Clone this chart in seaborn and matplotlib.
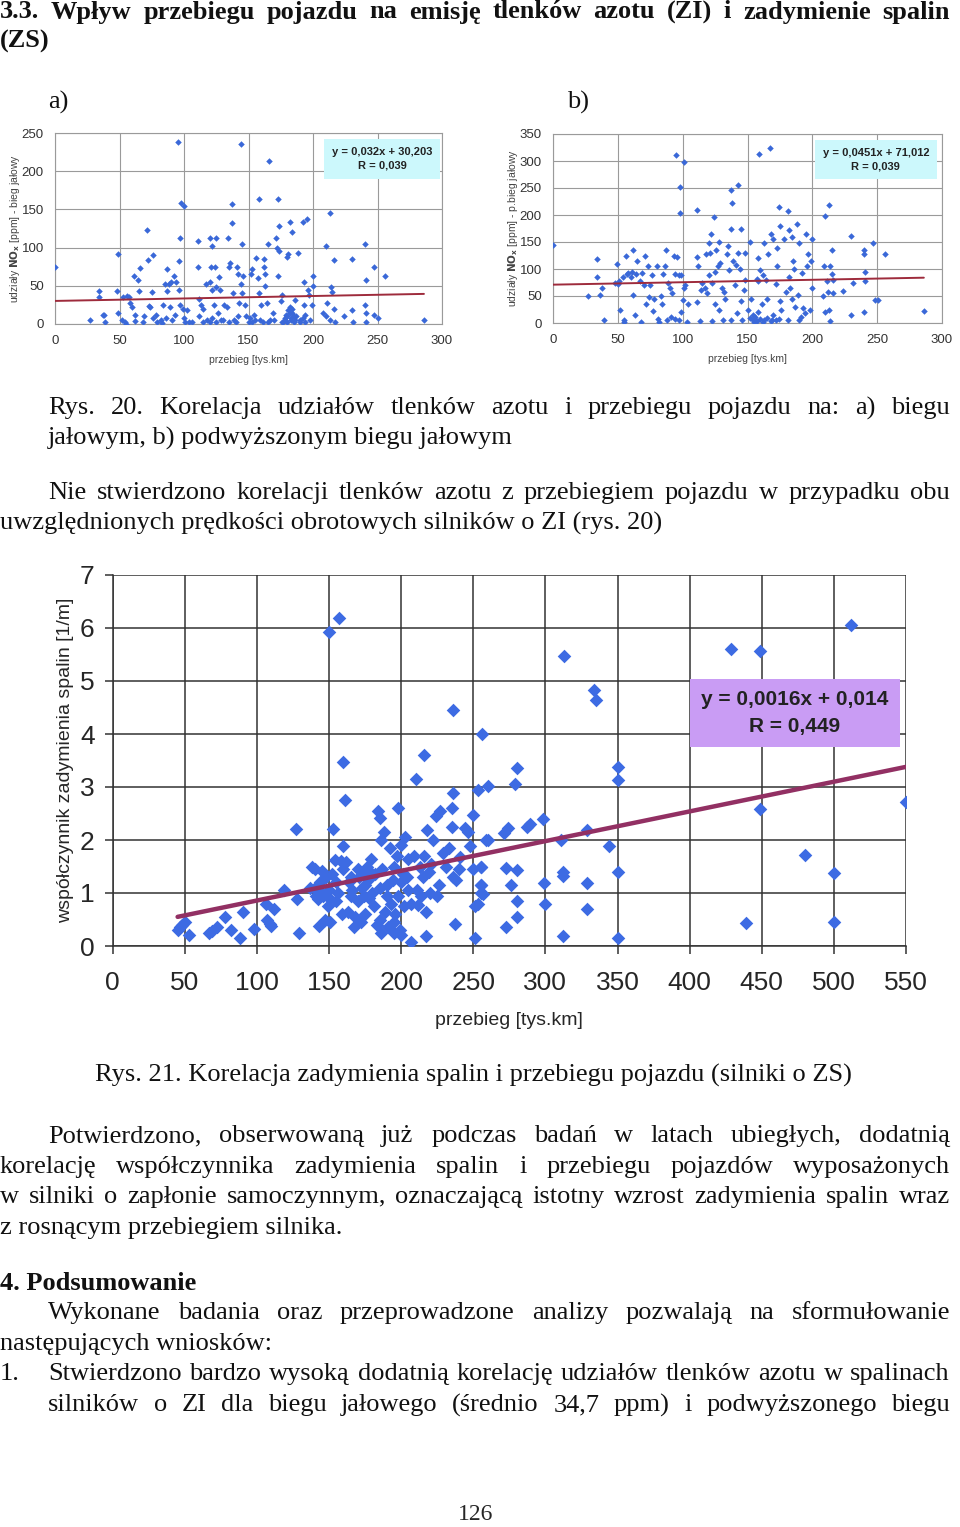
import numpy as np
import pandas as pd
import matplotlib
matplotlib.use("Agg")
import matplotlib.pyplot as plt
import seaborn as sns

W, H = 960, 1527

# --- rys. 20a: NOx, bieg jalowy ---
a_x = [0, 27, 34, 34, 37, 38, 39, 48, 49, 49, 52, 53, 54, 55, 56, 57, 58, 60, 61, 62, 62, 64, 65, 66, 68, 69,
       71, 72, 73, 74, 75, 76, 76, 78, 79, 82, 83, 84, 85, 86, 87, 87, 88, 89, 90, 91, 92, 93, 94, 95, 96, 96,
       97, 97, 98, 99, 100, 100, 101, 102, 104, 111, 111, 112, 112, 113, 115, 117, 118, 120, 120, 121, 122,
       122, 123, 124, 125, 125, 126, 127, 128, 129, 131, 133, 134, 135, 136, 137, 137, 138, 139, 141, 142,
       143, 144, 144, 145, 145, 146, 147, 148, 150, 152, 153, 154, 155, 156, 157, 158, 158, 160, 161, 162,
       162, 163, 163, 164, 165, 166, 167, 169, 171, 172, 173, 173, 174, 174, 175, 176, 177, 178, 180, 180,
       181, 182, 182, 183, 184, 184, 185, 186, 187, 188, 190, 192, 193, 193, 194, 195, 196, 197, 198, 199,
       200, 200, 208, 210, 210, 211, 213, 213, 214, 215, 216, 216, 217, 224, 230, 230, 231, 240, 240, 241,
       241, 241, 247, 247, 250, 256, 286,
       179, 181, 182, 183, 184, 185, 186, 180, 178, 176, 106, 115, 120, 122, 125, 130, 135, 140, 142, 151,
       153, 159, 165, 170, 190, 192, 194]
a_y = [75, 5, 43, 35, 12, 12, 2, 43, 91, 14, 5, 35, 2, 0, 37, 35, 27, 22, 63, 12, 4, 57, 43, 73, 2, 10,
       123, 84, 24, 22, 42, 90, 8, 12, 2, 5, 1, 25, 52, 8, 72, 43, 52, 22, 55, 5, 63, 12, 55, 238, 82, 45,
       112, 25, 158, 20, 155, 8, 3, 18, 3, 108, 75, 33, 10, 25, 20, 52, 5, 112, 55, 75, 102,
       45, 25, 74, 112, 48, 15, 62, 45, 5, 25, 22, 112, 75, 80, 157, 132, 40, 5, 75, 65,
       28, 235, 53, 105, 40, 63, 25, 10, 3, 65, 72, 12, 5, 86, 60, 163, 40, 25, 3, 85,
       75, 65, 50, 28, 105, 213, 5, 15, 112, 100, 163, 63, 128, 95, 30, 38, 2, 5, 88, 10,
       92, 134, 15, 8, 20, 121, 3, 32, 10, 93, 5, 134, 55, 25, 2, 138, 45, 38, 5, 25,
       63, 50, 15, 102, 10, 28, 145, 5, 48, 42, 84, 20, 3, 10, 85, 18, 3, 105, 25, 58,
       3, 15, 75, 12, 8, 63, 5,
       12, 18, 22, 5, 14, 10, 5, 2, 8, 3, 2, 2, 3, 8, 3, 5, 2, 3, 10, 8,
       2, 5, 3, 5, 3, 8, 12]
a_trend_x = [0, 286]
a_trend_y = [30.2, 39.4]

# --- rys. 20b: NOx, podwyzszony bieg jalowy ---
b_x = [0, 27, 34, 34, 36, 38, 39, 48, 49, 50, 51, 52, 54, 55, 55, 56, 57, 58, 60, 61, 62, 62, 63, 64, 65,
       67, 68, 69, 70, 71, 72, 73, 74, 75, 76, 77, 78, 80, 81, 82, 83, 84, 85, 86, 87, 88, 89, 90, 91, 92, 93,
       94, 94, 95, 96, 97, 97, 98, 98, 99, 99, 100, 101, 101, 102, 103, 104, 111, 111, 111, 112, 113, 114,
       115, 117, 118, 119, 120, 120, 121, 122, 123, 123, 124, 125, 125, 126, 127, 128, 128, 129, 130, 131,
       132, 133, 134, 135, 136, 137, 137, 137, 138, 139, 140, 141, 142, 143, 143, 144, 145, 145, 146, 147,
       148, 148, 150, 152, 153, 154, 155, 156, 157, 158, 158, 159, 160, 161, 162, 163, 163, 164, 165, 166,
       167, 168, 169, 170, 172, 173, 173, 174, 175, 175, 176, 178, 180, 181, 181, 182, 182, 183, 184, 184,
       185, 186, 187, 188, 189, 190, 190, 191, 192, 193, 194, 195, 196, 197, 198, 199, 200, 200, 208, 209,
       210, 210, 211, 212, 213, 213, 214, 214, 215, 215, 216, 216, 224, 230, 230, 231, 240, 240, 240, 241,
       241, 247, 248, 251, 256, 286,
       152, 154, 156, 157, 158, 160, 162, 165, 168, 170, 172, 174]
b_y = [145, 50, 118, 85, 52, 65, 5, 75, 110, 72, 78, 25, 85, 5, 2, 125, 90, 92, 85, 95, 135, 52, 15, 90, 115,
       78, 2, 92, 70, 125, 35, 105, 48, 70, 88, 22, 45, 105, 8, 2, 50, 35, 90, 105, 135, 5, 75, 65, 12, 55, 125,
       90, 8, 312, 122, 88, 5, 252, 203, 88, 20, 42, 298, 65, 70, 2, 35, 210, 122, 38, 105, 3, 62,
       75, 65, 128, 55, 148, 88, 130, 165, 75, 4, 197, 95, 35, 135, 105, 150, 25, 112, 65, 5,
       58, 45, 128, 142, 98, 175, 247, 5, 223, 115, 70, 108, 18, 255, 130, 100, 174, 40, 5, 62,
       130, 80, 25, 150, 45, 15, 2, 5, 82, 120, 78, 313, 98, 35, 88, 5, 148, 80, 45, 128,
       325, 165, 5, 155, 72, 138, 105, 215, 180, 40, 25, 155, 58, 208, 5, 172, 85, 65, 160, 45,
       115, 100, 30, 183, 52, 148, 5, 12, 92, 28, 18, 165, 105, 128, 25, 115, 155, 65, 50, 105,
       198, 20, 78, 58, 218, 25, 105, 3, 135, 90, 55, 80, 60, 162, 15, 75, 135, 128, 20, 95,
       78, 148, 42, 42, 128, 23,
       10, 5, 12, 3, 20, 8, 2, 10, 3, 15, 5, 8]
b_trend_x = [0, 286]
b_trend_y = [71.0, 83.9]

# --- rys. 21: zadymienie spalin (ZS) ---
c_x = [45, 47, 48, 50, 53, 67, 69, 72, 78, 82, 88, 90, 98, 106, 107, 109, 110, 112, 119, 127, 128, 129,
       137, 138, 140, 141, 142, 143, 144, 145, 146, 147, 148, 149, 150, 150, 151, 152, 153, 154, 155, 156,
       157, 158, 159, 160, 160, 161, 162, 163, 164, 165, 166, 167, 168, 170, 171, 172, 173, 174, 175, 176,
       177, 178, 179, 180, 181, 182, 183, 184, 185, 186, 186, 187, 188, 189, 190, 191, 192, 193, 194, 195,
       196, 197, 198, 198, 199, 200, 201, 202, 203, 204, 205, 207, 207, 209, 210, 211, 212, 213, 214, 215,
       216, 216, 217, 217, 218, 219, 220, 221, 222, 224, 225, 226, 227, 229, 231, 233, 235, 235, 236, 236,
       236, 237, 238, 240, 241, 244, 246, 248, 250, 251, 250, 251, 253, 253, 255, 255, 256, 257, 260, 260,
       140, 145, 150, 155, 165, 170, 175, 180, 185, 190, 195, 200, 205, 185, 195, 200, 175, 160,
       280, 279, 313, 334, 335, 350, 350, 429, 449, 512, 550, 449, 480, 500, 500, 439, 298, 289, 287, 274,
       271, 259, 311, 329, 344, 350, 312, 312, 299, 329, 300, 329, 280, 273, 276, 280, 280, 273, 312, 350,
       255, 255, 255]
c_y = [0.3, 0.35, 0.4, 0.45, 0.2, 0.25, 0.28, 0.35, 0.55, 0.3, 0.15, 0.65, 0.32, 0.8, 0.5, 0.42, 0.38, 0.7,
       1.05, 2.2, 0.88, 0.25,
       1.1, 1.5, 1.45, 0.95, 0.88, 0.38, 1.2, 1.42, 0.95, 0.5, 1.3, 0.75, 5.92, 1.05, 0.45, 1.35, 2.2, 1.62,
       0.85, 1.0, 6.18, 1.6, 0.6, 3.48, 1.88, 2.75, 1.58, 0.65, 1.2, 0.95, 1.05, 0.35, 0.55, 1.45, 1.3, 0.45,
       1.1, 0.95, 0.6, 1.5, 1.25, 0.9, 1.65, 1.0, 0.75, 1.35, 0.4, 2.55, 2.42, 0.25, 2.0, 1.45, 2.15, 0.65,
       1.15, 0.35, 1.85, 0.8, 1.25, 0.25, 0.6, 1.7, 2.6, 0.95, 0.3, 1.9, 1.35, 0.75, 2.05, 1.3, 1.65, 0.8,
       0.08, 1.7, 3.15, 1.05, 0.78, 1.5, 0.95, 1.3, 3.6, 1.7, 0.65, 0.18, 2.18, 1.4, 1.0, 1.55, 2.0, 2.45,
       0.95, 1.15, 2.55, 1.75, 1.5, 1.85, 2.6, 2.25, 4.45, 2.88, 1.3, 0.42, 1.25, 1.45, 1.68, 2.22, 2.15,
       1.88, 2.48, 0.15, 1.45, 0.75, 0.8, 2.95, 1.15, 1.5, 4.0, 0.98, 3.02, 2.0,
       1.1, 1.0, 0.9, 1.2, 1.3, 0.85, 1.15, 1.35, 1.1, 0.95, 1.5, 1.2, 1.05, 0.5, 0.45, 0.2, 1.4, 1.45,
       3.35, 3.05, 5.47, 4.83, 4.64, 3.38, 3.14, 5.6, 5.57, 6.06, 2.72, 2.58, 1.72, 1.38, 0.46, 0.43, 2.4,
       2.31, 2.25, 2.22,
       2.13, 2.0, 2.0, 2.18, 1.89, 1.4, 1.4, 1.32, 1.19, 1.19, 0.8, 0.69, 1.43, 1.47, 1.15, 0.84, 0.54, 0.36,
       0.18, 0.16,
       1.0, 1.5, 1.15]
c_trend_x = [45, 550]
c_trend_y = [0.55, 3.38]

title_lines = [
    "3.3. Wpływ przebiegu pojazdu na emisję tlenków azotu (ZI) i zadymienie spalin",
    "(ZS)",
]
body_lines = [
    # text, y, x0, x1 (None = not justified), bold
    ("Rys. 20. Korelacja udziałów tlenków azotu i przebiegu pojazdu na: a) biegu", 408, 48, 950, False),
    ("jałowym, b) podwyższonym biegu jałowym", 438, 48, None, False),
    ("Nie stwierdzono korelacji tlenków azotu z przebiegiem pojazdu w przypadku obu", 493, 48, 950, False),
    ("uwzględnionych prędkości obrotowych silników o ZI (rys. 20)", 523, 0, None, False),
    ("Rys. 21. Korelacja zadymienia spalin i przebiegu pojazdu (silniki o ZS)", 1075, 95, None, False),
    ("Potwierdzono, obserwowaną już podczas badań w latach ubiegłych, dodatnią", 1136, 48, 950, False),
    ("korelację współczynnika zadymienia spalin i przebiegu pojazdów wyposażonych", 1167, 0, 950, False),
    ("w silniki o zapłonie samoczynnym, oznaczającą istotny wzrost zadymienia spalin wraz", 1197, 0, 950, False),
    ("z rosnącym przebiegiem silnika.", 1228, 0, None, False),
    ("4. Podsumowanie", 1283, 0, None, True),
    ("Wykonane badania oraz przeprowadzone analizy pozwalają na sformułowanie", 1313, 48, 950, False),
    ("następujących wniosków:", 1344, 0, None, False),
    ("1.", 1374, 0, None, False),
    ("Stwierdzono bardzo wysoką dodatnią korelację udziałów tlenków azotu w spalinach", 1374, 48, 950, False),
    ("silników o ZI dla biegu jałowego (średnio 34,7 ppm) i podwyższonego biegu", 1405, 48, 950, False),
]

sns.set_style("white")
plt.rcParams["font.family"] = ["Liberation Sans", "DejaVu Sans"]
SERIF = ["Liberation Serif", "DejaVu Serif"]
TXT = 19

fig = plt.figure(figsize=(W / 100, H / 100), dpi=100)
renderer = fig.canvas.get_renderer()


def put_line(text, y, x0, x1=None, bold=False, size=TXT):
    kw = dict(family=SERIF, fontsize=size, va="center", ha="left",
              fontweight="bold" if bold else "normal", color="#111111")
    if x1 is None:
        fig.text(x0 / W, 1 - y / H, text, **kw)
        return
    # justified line: spread the words between x0 and x1
    words = text.split()
    arts = [fig.text(0, 0, w, **kw) for w in words]
    widths = [a.get_window_extent(renderer).width for a in arts]
    gap = (x1 - x0 - sum(widths)) / (len(words) - 1)
    x = x0
    for a, w in zip(arts, widths):
        a.set_position((x / W, 1 - y / H))
        x += w + gap


def box_axes(left, right, top, bottom):
    return fig.add_axes([left / W, 1 - bottom / H, (right - left) / W, (bottom - top) / H])


def small_chart(ax, xs, ys, tx, ty, ymax, ylabel, eq, eq_pos):
    sns.scatterplot(x=xs, y=ys, ax=ax, marker="D", s=11, color="#3a68d8", linewidth=0, zorder=3)
    sns.lineplot(x=tx, y=ty, ax=ax, color="#9e2b3c", linewidth=1.4, zorder=4)
    ax.set_xlim(0, 300)
    ax.set_ylim(0, ymax)
    ax.set_xticks(range(0, 301, 50))
    ax.set_yticks(range(0, ymax + 1, 50))
    ax.grid(True, color="#9a9a9a", linewidth=0.8)
    for s in ax.spines.values():
        s.set_color("#9a9a9a")
        s.set_linewidth(0.8)
    ax.tick_params(length=0, pad=8, labelsize=9.5, labelcolor="#333333")
    ax.set_xlabel("przebieg [tys.km]", fontsize=7.5, color="#444444", labelpad=6)
    ax.set_ylabel(ylabel, fontsize=7.5, color="#444444", labelpad=0)
    ax.text(eq_pos[0], eq_pos[1], eq, transform=ax.transAxes, ha="center", va="center",
            fontsize=8, fontweight="bold", color="#222222", linespacing=1.45,
            bbox=dict(boxstyle="square,pad=0.7", facecolor="#ccf8fc", edgecolor="none"), zorder=5)


for i, line in enumerate(title_lines):
    put_line(line, 12 + 29 * i, 0, 950 if i == 0 else None, bold=True)
put_line("a)", 102, 48)
put_line("b)", 102, 567)
for text, y, x0, x1, bold in body_lines:
    put_line(text, y, x0, x1, bold)
fig.text(476 / W, 1 - 1514 / H, "126", family=SERIF, fontsize=17, ha="center", va="center")

ax_a = box_axes(55, 442, 133, 324)
small_chart(ax_a, a_x, a_y, a_trend_x, a_trend_y, 250,
            r"udziały $\mathbf{NO_x}$ [ppm] - bieg jałowy", "y = 0,032x + 30,203\nR = 0,039",
            (0.845, 0.864))
ax_b = box_axes(553, 942, 134, 323)
small_chart(ax_b, b_x, b_y, b_trend_x, b_trend_y, 350,
            r"udziały $\mathbf{NO_x}$ [ppm] - p.bieg jałowy", "y = 0,0451x + 71,012\nR = 0,039",
            (0.83, 0.865))

ax_c = box_axes(112.7, 906, 575, 946)
sns.scatterplot(x=c_x, y=c_y, ax=ax_c, marker="D", s=48, color="#3d6be3", linewidth=0, zorder=3)
sns.lineplot(x=c_trend_x, y=c_trend_y, ax=ax_c, color="#923063", linewidth=3.2, zorder=4)
ax_c.set_xlim(0, 550)
ax_c.set_ylim(0, 7)
ax_c.set_xticks(range(0, 551, 50))
ax_c.set_yticks(range(0, 8))
ax_c.grid(True, color="#333333", linewidth=1.1)
for side in ["top", "right"]:
    ax_c.spines[side].set_visible(False)
for side in ["left", "bottom"]:
    ax_c.spines[side].set_color("#333333")
    ax_c.spines[side].set_linewidth(1.1)
ax_c.tick_params(axis="both", direction="out", length=6, width=1.1, color="#333333",
                 labelsize=19, left=True, bottom=True)
ax_c.tick_params(axis="y", pad=7)
ax_c.tick_params(axis="x", pad=12)
ax_c.set_xlabel("przebieg [tys.km]", fontsize=14, labelpad=12)
ax_c.set_ylabel("współczynnik zadymienia spalin [1/m]", fontsize=14, labelpad=4)
ax_c.text(0.86, 0.628, "y = 0,0016x + 0,014\nR = 0,449", transform=ax_c.transAxes,
          ha="center", va="center", fontsize=15, fontweight="bold", color="#222222",
          linespacing=1.5, zorder=5,
          bbox=dict(boxstyle="square,pad=0.55", facecolor="#c99cf4", edgecolor="none"))

fig.savefig("out.png", dpi=100)
